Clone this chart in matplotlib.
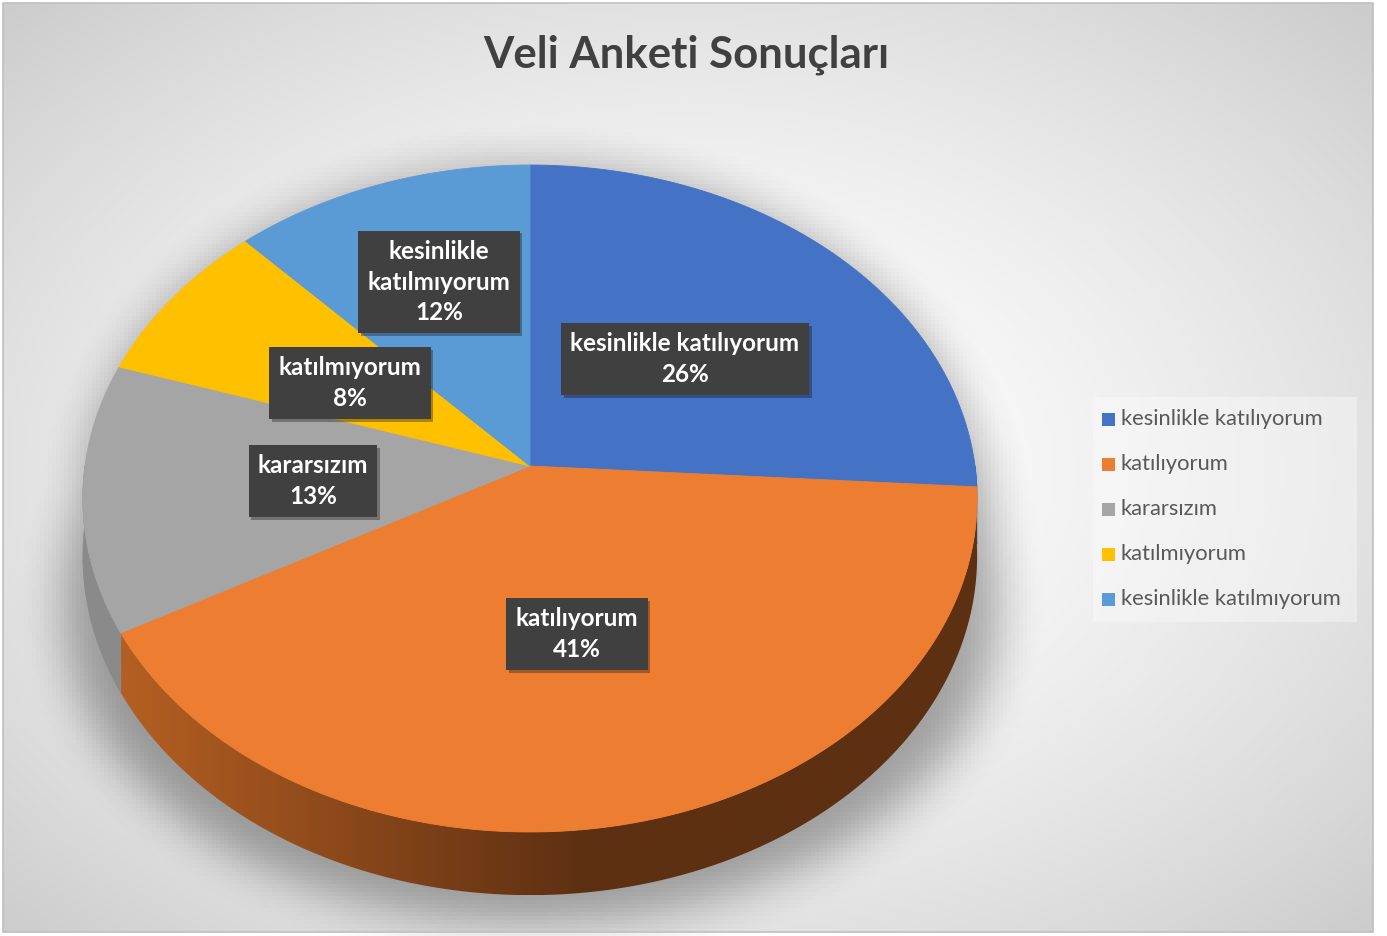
import numpy as np
import matplotlib
matplotlib.use("Agg")
import matplotlib.pyplot as plt
from matplotlib.patches import Polygon, Rectangle
from matplotlib.path import Path
import matplotlib.patheffects as pe

plt.rcParams['font.family'] = ['Lato', 'DejaVu Sans']

# survey data
categories = ["kesinlikle katılıyorum", "katılıyorum", "kararsızım",
              "katılmıyorum", "kesinlikle katılmıyorum"]
percent = [26, 41, 13, 8, 12]
labels = ["kesinlikle katılıyorum", "katılıyorum", "kararsızım",
          "katılmıyorum", "kesinlikle\nkatılmıyorum"]
colors = ["#4472C4", "#ED7D31", "#A5A5A5", "#FFC000", "#5B9BD5"]
side_colors = ["#2f5597", None, "#8a8a8a", "#bf9000", "#41719c"]

W, H = 1387, 936
fig = plt.figure(figsize=(W / 100, H / 100), dpi=100)
ax = fig.add_axes([0, 0, 1, 1])
ax.set_xlim(0, W)
ax.set_ylim(H, 0)
ax.axis("off")

# background radial gradient
yy, xx = np.mgrid[0:H, 0:W]
v = np.sqrt(((xx - 690) / 690.0) ** 2 + ((yy - 470) / 470.0) ** 2) / 1.41
g = 1 - 0.2 * np.clip(v, 0, 1) ** 1.6
ax.imshow(np.dstack([g, g, g]), extent=(3, 1373, 932, 3), zorder=0, aspect="auto")
ax.add_patch(Rectangle((3, 3), 1370, 929, fill=False, ec="#bfbfbf", lw=1.2, zorder=20))

# perspective pie geometry
cx, cy = 530, 466
A, B, k, D = 445, 330.3, 0.0975, 57


def proj(t, depth=0.0):
    t = np.radians(t)
    s = 1 + k * np.sin(t)
    return cx + A * np.cos(t) / s, cy - B * np.sin(t) / s + depth * D / s


# shadow from blurred silhouette, spread towards the bottom
ts = np.linspace(-5.6, 174.4, 200)
tx, ty = proj(ts)
bs = np.linspace(-185.6, -5.6, 200)
bx, by = proj(bs, 1)
sil = np.column_stack([np.r_[tx, bx], np.r_[ty, by]])
grow = 1 + 0.08 * np.clip((sil[:, 1] - 420) / 260, 0, 1.2)
sil[:, 0] = 530 + (sil[:, 0] - 530) * grow
sil[:, 1] = sil[:, 1] + 25 * np.clip((sil[:, 1] - 420) / 400, 0, 1)
step = 4
gy, gx = np.mgrid[0:H:step, 0:W:step]
mask = Path(sil).contains_points(np.column_stack([gx.ravel(), gy.ravel()])).reshape(gx.shape).astype(float)
r = 6
for _ in range(2):
    for axis in (0, 1):
        c = np.cumsum(np.pad(mask, [(r + 1, r) if a == axis else (0, 0) for a in (0, 1)]), axis=axis)
        mask = (np.take(c, range(2 * r + 1, c.shape[axis]), axis=axis) -
                np.take(c, range(0, c.shape[axis] - 2 * r - 1), axis=axis)) / (2 * r + 1)
shadow = np.zeros(mask.shape + (4,))
shadow[..., 3] = mask * 0.33
ax.imshow(shadow, extent=(0, W, H, 0), zorder=1, aspect="auto")

# slice angles (clockwise from top)
cum = np.cumsum([0] + percent) / sum(percent)
t_start = 90 - cum[:-1] * 360
t_end = 90 - cum[1:] * 360

# side walls
for i in range(len(percent)):
    lo, hi = max(t_end[i], -180), min(t_start[i], 0)
    if lo >= hi:
        continue
    tt = np.linspace(lo, hi, 120)
    x1, y1 = proj(tt)
    x2, y2 = proj(tt[::-1], 1)
    poly = Polygon(np.column_stack([np.r_[x1, x2], np.r_[y1, y2]]), closed=True, zorder=2)
    if side_colors[i] is None:
        poly.set_facecolor("none")
        poly.set_edgecolor("none")
        ax.add_patch(poly)
        f = np.clip((np.linspace(x1.min(), x1.max(), 300) - 130) / 450, 0, 1)
        c0 = np.array([0xb3, 0x5e, 0x22]) / 255
        c1 = np.array([0x5e, 0x30, 0x12]) / 255
        grad = c0[None, :] * (1 - f[:, None]) + c1[None, :] * f[:, None]
        im = ax.imshow(grad[None, :, :], extent=(x1.min(), x1.max(), max(y2.max(), y1.max()), min(y1.min(), y2.min())),
                       zorder=2, aspect="auto")
        im.set_clip_path(poly)
    else:
        poly.set_facecolor(side_colors[i])
        poly.set_edgecolor(side_colors[i])
        poly.set_linewidth(0.5)
        ax.add_patch(poly)

# top faces
for i in range(len(percent)):
    tt = np.linspace(t_start[i], t_end[i], 200)
    x, y = proj(tt)
    pts = np.column_stack([np.r_[cx, x], np.r_[cy, y]])
    ax.add_patch(Polygon(pts, closed=True, fc=colors[i], ec=colors[i], lw=0.6, zorder=3))

# data labels
label_pos = [(685, 359), (577, 634), (313, 481), (350, 383), (439, 282)]
for i, (lx, ly) in enumerate(label_pos):
    t = ax.text(lx, ly, f"{labels[i]}\n{percent[i]}%", ha="center", va="center",
                fontsize=17.5, fontweight="bold", color="white", linespacing=1.4, zorder=5,
                bbox=dict(boxstyle="square,pad=0.38", fc="#404040", ec="none"))
    t.get_bbox_patch().set_path_effects([pe.withSimplePatchShadow(offset=(2, -2), alpha=0.35)])

# legend
ax.add_patch(Rectangle((1093, 397), 264, 225, fc="white", alpha=0.35, ec="none", zorder=4))
for i, name in enumerate(categories):
    ly = 419 + 45 * i
    ax.add_patch(Rectangle((1102, ly - 6.5), 13, 13, fc=colors[i], ec="none", zorder=5))
    ax.text(1121, ly, name, ha="left", va="center", fontsize=15.8, color="#595959", zorder=5)

ax.text(686, 55, "Veli Anketi Sonuçları", ha="center", va="center", fontsize=31.5,
        fontweight="bold", color="#404040", zorder=5)

fig.savefig("out.png", dpi=100, facecolor="white")
